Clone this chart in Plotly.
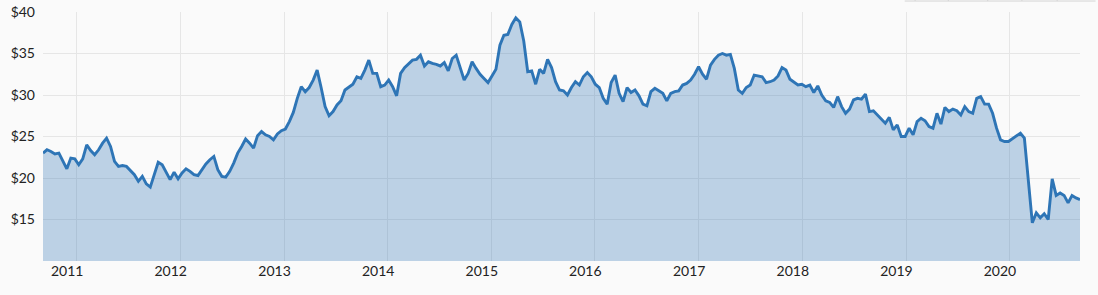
import pandas as pd
import plotly.graph_objects as go

start_date = "2010-09-04"
step = "14D"

prices = [
    23.0, 23.4, 23.2, 22.9, 23.0, 22.0, 21.1, 22.4, 22.3, 21.6,
    22.3, 24.0, 23.3, 22.8, 23.4, 24.2, 24.8, 23.8, 22.0, 21.4,
    21.5, 21.4, 20.9, 20.4, 19.6, 20.2, 19.3, 18.9, 20.4, 21.9,
    21.6, 20.7, 19.8, 20.7, 19.9, 20.6, 21.1, 20.8,
    20.4, 20.3, 21.0, 21.7, 22.2, 22.6, 21.0, 20.2, 20.1, 20.8,
    21.8, 23.0, 23.8, 24.7, 24.2, 23.6, 25.1, 25.6, 25.2, 25.0,
    24.6, 25.3, 25.7, 25.9, 26.8, 27.9, 29.6, 31.0, 30.4, 30.9,
    31.8, 33.0, 30.9, 28.6, 27.5, 28.0, 28.8, 29.3,
    30.6, 30.9, 31.3, 32.2, 32.0, 33.0, 34.2, 32.6, 32.6, 31.0,
    31.2, 31.8, 31.0, 29.9, 32.6, 33.3, 33.7, 34.2, 34.3, 34.8,
    33.5, 34.0, 33.8, 33.7, 33.5, 33.9, 32.9, 34.4, 34.8, 33.4,
    31.8, 32.6, 34.0, 33.2, 32.5, 32.0, 31.5, 32.3,
    33.1, 36.0, 37.2, 37.3, 38.5, 39.3, 38.8, 36.5, 32.8, 32.9,
    31.3, 33.1, 32.6, 34.3, 33.3, 31.6, 30.6, 30.5, 30.0, 30.9,
    31.6, 31.2, 32.2, 32.7, 32.2, 31.3, 30.9, 29.6, 28.9, 31.5,
    32.4, 30.2, 29.2, 30.9, 30.3, 30.6, 29.9, 28.9,
    28.7, 30.4, 30.8, 30.5, 30.2, 29.3, 30.2, 30.4, 30.5, 31.2,
    31.4, 31.8, 32.5, 33.4, 32.5, 31.9, 33.6, 34.3, 34.8, 35.0,
    34.8, 34.9, 33.2, 30.6, 30.2, 30.9, 31.2, 32.4, 32.3, 32.2,
    31.5, 31.6, 31.8, 32.3, 33.3, 33.0, 31.9, 31.6,
    31.2, 31.3, 31.0, 31.2, 30.3, 31.1, 30.0, 29.3, 29.1, 28.5,
    29.8, 28.6, 27.8, 28.3, 29.4, 29.6, 29.5, 30.1, 28.0, 28.1,
    27.6, 27.0, 26.6, 27.3, 25.8, 26.4, 25.0, 25.0, 26.0, 25.2,
    26.8, 27.2, 26.9, 26.2, 26.0, 27.8, 26.5, 28.5,
    28.0, 28.3, 28.1, 27.6, 28.6, 28.0, 27.8, 29.6, 29.8, 28.9,
    28.9, 27.8, 26.0, 24.6, 24.4, 24.4, 24.7, 25.1, 25.4, 24.8,
    19.8, 14.6, 15.8, 15.2, 15.7, 15.0, 19.9, 17.9, 18.2, 17.9,
    17.0, 17.9, 17.6, 17.4,
]

years = list(range(2011, 2021))
y_ticks = [15, 20, 25, 30, 35, 40]

dates = pd.date_range(start_date, periods=len(prices), freq=step)

line_color = "#2e75b6"
fill_color = "rgba(46,117,182,0.30)"
grid_color = "#e6e6e6"
bg = "#fafafa"
font_family = "Lato, 'Open Sans', sans-serif"

fig = go.Figure()
fig.add_trace(go.Scatter(
    x=dates, y=prices, mode="lines",
    line=dict(color=line_color, width=2.9),
    fill="tozeroy", fillcolor=fill_color,
    hoverinfo="skip", showlegend=False,
))

label_pos = [pd.Timestamp(f"{y - 1}-11-28") for y in years]
grid_pos = [pd.Timestamp(f"{y}-01-01") for y in years]

# faint remains of a cut-off control strip at the top right (paper coords)
strip_y = 1.044
strip_x0, strip_x1 = 0.831, 1.015
strip_ticks = [0.841, 0.873, 0.911, 0.944, 0.978]
shapes = [dict(type="line", xref="paper", yref="paper", x0=strip_x0, x1=strip_x1,
               y0=strip_y, y1=strip_y, line=dict(color="#d4d4d4", width=1))]
for t in strip_ticks:
    shapes.append(dict(type="line", xref="paper", yref="paper", x0=t, x1=t,
                       y0=strip_y, y1=strip_y + 0.01, line=dict(color="#d4d4d4", width=1)))

fig.update_layout(
    width=1098, height=295,
    margin=dict(l=43, r=18, t=12, b=34, autoexpand=False),
    paper_bgcolor=bg, plot_bgcolor=bg,
    font=dict(family=font_family, size=14, color="#222222"),
    shapes=shapes,
    xaxis=dict(
        range=[dates[0], dates[-1]], automargin=False,
        tickmode="array", tickvals=label_pos, ticktext=[str(y) for y in years],
        showgrid=False, zeroline=False, showline=False, ticks="",
        minor=dict(tickmode="array", tickvals=grid_pos, showgrid=True,
                   gridcolor=grid_color, gridwidth=1, ticks=""),
    ),
    yaxis=dict(
        range=[10, 40], automargin=False,
        tickmode="array", tickvals=y_ticks, ticktext=[f"${v}" for v in y_ticks],
        showgrid=True, gridcolor=grid_color, gridwidth=1,
        zeroline=False, showline=False, ticks="", ticklabelstandoff=7,
    ),
)

fig.write_html("out.html")
